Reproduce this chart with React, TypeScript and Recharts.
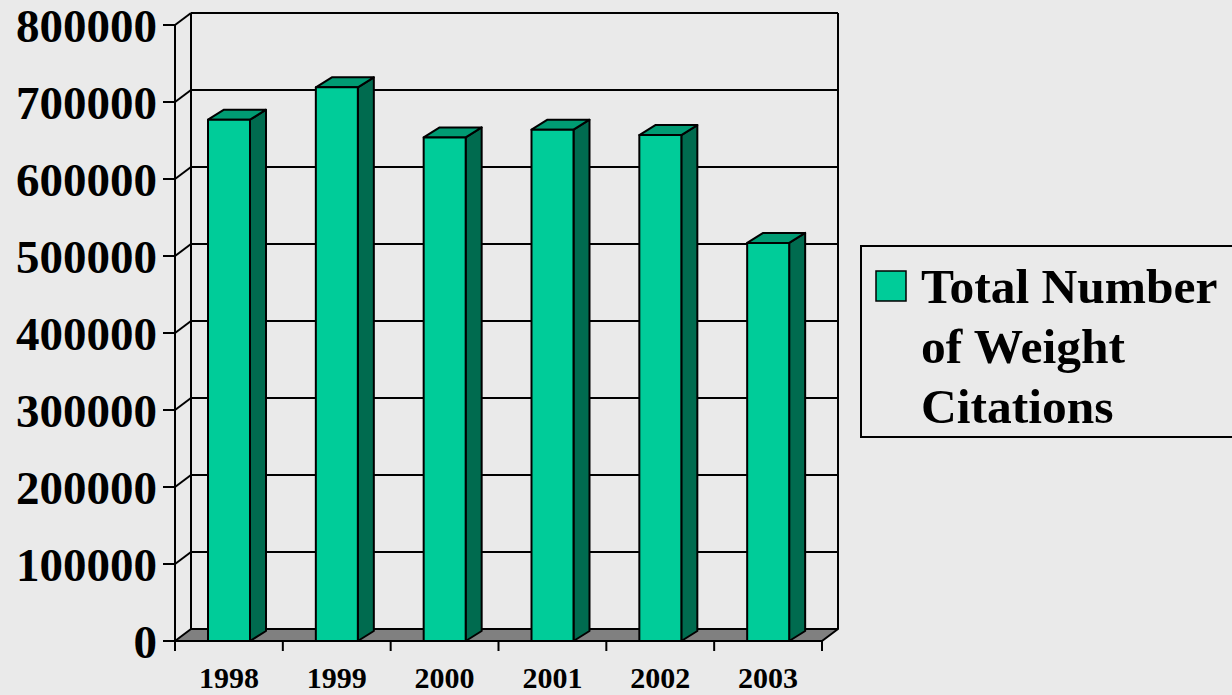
import { Bar, BarChart, CartesianGrid, Legend, XAxis, YAxis } from 'recharts';

const YEARS = ['1998', '1999', '2000', '2001', '2002', '2003'];
const CITATIONS = [677000, 719000, 654000, 664000, 657000, 517000];
const Y_TICKS = [0, 100000, 200000, 300000, 400000, 500000, 600000, 700000, 800000];
const SERIES_NAME = 'Total Number of Weight Citations';
const LEGEND_LINES = ['Total Number', 'of Weight', 'Citations'];

const data = YEARS.map((year, i) => ({ year, citations: CITATIONS[i] }));

const FONT = '"Liberation Serif", "Times New Roman", serif';
const WALL_DX = 16;
const WALL_DY = 12;
const BAR_DX = 16;
const BAR_DY = 10;

// back wall + left wall lines; floor drawn on the 0 line
// eslint-disable-next-line @typescript-eslint/no-explicit-any
function WallLine(props: any) {
  const { x1, y1, x2, y, height } = props;
  const bottom = y + height;
  const isBottom = Math.abs(y1 - bottom) < 1;
  const isTop = Math.abs(y1 - y) < 1;
  const bx1 = x1 + WALL_DX;
  const bx2 = x2 + WALL_DX;
  const by = y1 - WALL_DY;

  if (isBottom) {
    return (
      <g>
        <polygon
          points={`${x1},${y1} ${x2},${y1} ${bx2},${by} ${bx1},${by}`}
          fill="#808080"
          stroke="#000"
          strokeWidth={2}
          strokeLinejoin="round"
        />
      </g>
    );
  }

  return (
    <g stroke="#000" strokeWidth={2} fill="none">
      <line x1={bx1} y1={by} x2={bx2} y2={by} />
      <line x1={x1} y1={y1} x2={bx1} y2={by} />
      {isTop ? (
        <>
          <line x1={bx1} y1={by} x2={bx1} y2={bottom - WALL_DY} />
          <line x1={bx2} y1={by} x2={bx2} y2={bottom - WALL_DY} />
        </>
      ) : null}
    </g>
  );
}

// eslint-disable-next-line @typescript-eslint/no-explicit-any
function Bar3D(props: any) {
  const { x, y, width, height } = props;
  const r = x + width;
  return (
    <g stroke="#000" strokeWidth={2} strokeLinejoin="round">
      <polygon
        points={`${r},${y} ${r + BAR_DX},${y - BAR_DY} ${r + BAR_DX},${y + height - BAR_DY} ${r},${y + height}`}
        fill="#006b4f"
      />
      <polygon points={`${x},${y} ${x + BAR_DX},${y - BAR_DY} ${r + BAR_DX},${y - BAR_DY} ${r},${y}`} fill="#009b73" />
      <rect x={x} y={y} width={width} height={height} fill="#00cc99" />
    </g>
  );
}

// eslint-disable-next-line @typescript-eslint/no-explicit-any
function YearTick(props: any) {
  const { x, y, width, visibleTicksCount, index, payload } = props;
  const band = width && visibleTicksCount ? width / visibleTicksCount : 647 / 6;
  const axisY = y - 12;
  const left = x - band / 2;
  const right = x + band / 2;
  return (
    <g>
      <line x1={left} y1={axisY} x2={left} y2={axisY + 10} stroke="#000" strokeWidth={2} />
      {index === visibleTicksCount - 1 ? (
        <line x1={right} y1={axisY} x2={right} y2={axisY + 10} stroke="#000" strokeWidth={2} />
      ) : null}
      <text x={x} y={y + 35} textAnchor="middle" fontFamily={FONT} fontWeight="bold" fontSize={30} fill="#000">
        {payload.value}
      </text>
    </g>
  );
}

function LegendBox() {
  return (
    <svg width={372} height={193} style={{ display: 'block' }}>
      <path d="M372,1 H1 V192 H372" fill="none" stroke="#000" strokeWidth={2} />
      <rect x={16} y={26} width={30} height={30} fill="#00cc99" stroke="#000" strokeWidth={1.5} />
      <text fontFamily={FONT} fontWeight="bold" fontSize={49.5} fill="#000">
        {LEGEND_LINES.map((line, i) => (
          <tspan key={line} x={61} y={58 + i * 60}>
            {line}
          </tspan>
        ))}
      </text>
    </svg>
  );
}

export default function App() {
  return (
    <div
      style={{
        position: 'absolute',
        left: 0,
        top: 0,
        width: 1232,
        height: 695,
        background: '#eaeaea',
        overflow: 'hidden',
      }}
    >
      <BarChart width={1232} height={695} data={data} margin={{ top: 25, right: 410, bottom: 0, left: 0 }}>
        <CartesianGrid horizontal={(p: any) => <WallLine {...p} />} vertical={false} stroke="#000" />
        <XAxis
          dataKey="year"
          height={54}
          tickSize={10}
          tickLine={false}
          axisLine={{ stroke: '#000', strokeWidth: 2 }}
          tick={<YearTick />}
          interval={0}
        />
        <YAxis
          type="number"
          domain={[0, 800000]}
          ticks={Y_TICKS}
          interval={0}
          width={175}
          tickSize={12}
          tickMargin={6}
          axisLine={{ stroke: '#000', strokeWidth: 2 }}
          tickLine={{ stroke: '#000', strokeWidth: 2 }}
          tick={{ fill: '#000', fontSize: 47, fontWeight: 'bold', fontFamily: FONT }}
        />
        <Legend
          layout="horizontal"
          verticalAlign="middle"
          align="center"
          content={() => <LegendBox />}
          wrapperStyle={{ left: 860, top: 245, width: 372, height: 193 }}
        />
        <Bar dataKey="citations" name={SERIES_NAME} barSize={42} shape={<Bar3D />} isAnimationActive={false} />
      </BarChart>
    </div>
  );
}
